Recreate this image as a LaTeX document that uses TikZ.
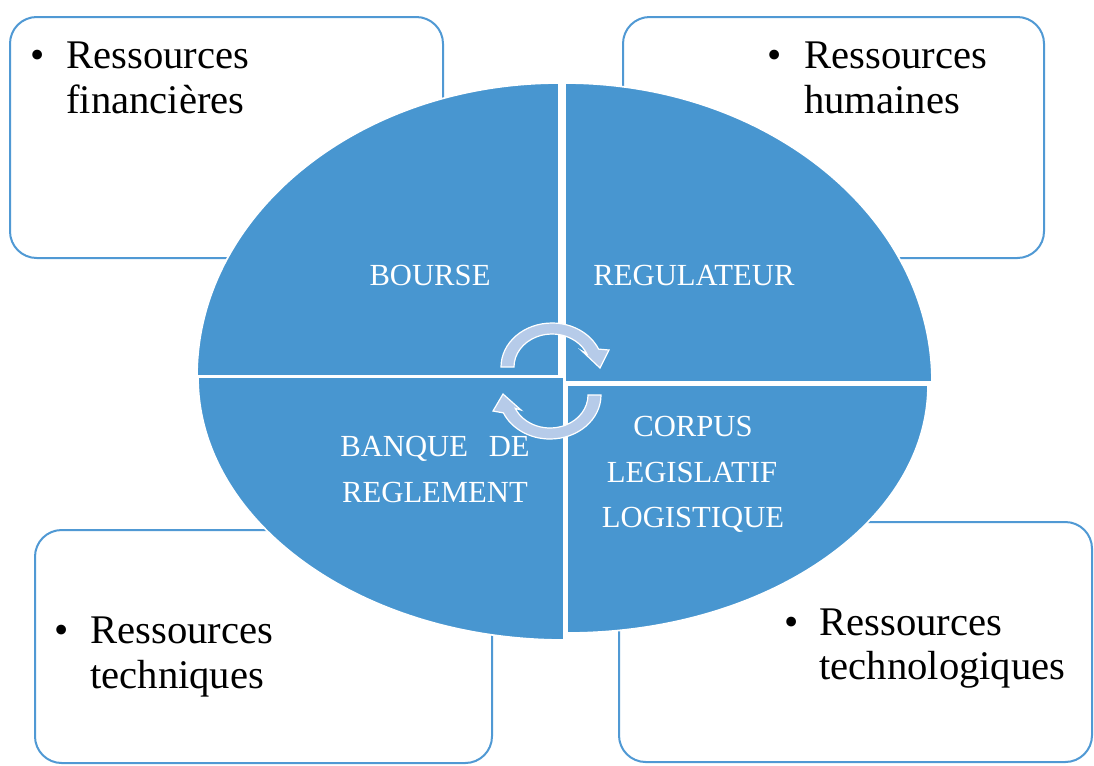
\documentclass[tikz,border=0pt]{standalone}
\usepackage{fontspec}
\setmainfont{Liberation Serif}
\newfontfamily\timesfont{Liberation Serif}
\definecolor{quad}{RGB}{72,150,208}
\definecolor{boxline}{RGB}{80,153,212}
\definecolor{arrowfill}{RGB}{182,203,233}
\begin{document}
\begin{tikzpicture}[x=0.75pt,y=-0.75pt,
  resbox/.style={draw=boxline, fill=white, line width=1.5pt, rounded corners=20pt},
  quadfill/.style={fill=quad, draw=white, line width=1.3pt},
  cyc/.style={fill=arrowfill, draw=white, line width=0.9pt, line join=miter},
  restext/.style={font=\timesfont\fontsize{30.5}{36}\selectfont, anchor=base west, inner sep=0pt},
  bul/.style={font=\timesfont\fontsize{30.5}{36}\selectfont, anchor=base, inner sep=0pt},
  quadtext/.style={font=\timesfont\fontsize{23}{27}\selectfont, text=white, anchor=base, inner sep=0pt}]
\useasboundingbox (0,0) rectangle (1094,765);
\fill[white] (0,0) rectangle (1094,765);
% corner boxes
\draw[resbox] (10,17) rectangle (443,258);
\draw[resbox] (623,17) rectangle (1044,258);
\draw[resbox] (35,530) rectangle (492,763);
\draw[resbox] (619,522) rectangle (1092,762);
% box texts
\node[bul] (b1) at (38,68) {•};
\node[restext] (t1a) at (66,68) {Ressources};
\node[restext] (t1b) at (66,113) {financières};
\node[bul] (b2) at (775,68) {•};
\node[restext] (t2a) at (804,68) {Ressources};
\node[restext] (t2b) at (804,113) {humaines};
\node[bul] (b3) at (62,643) {•};
\node[restext] (t3a) at (90,643) {Ressources};
\node[restext] (t3b) at (90,688) {techniques};
\node[bul] (b4) at (792,635) {•};
\node[restext] (t4a) at (819,635) {Ressources};
\node[restext] (t4b) at (819,679) {technologiques};
% ellipse quadrants
\path[quadfill] (559,376) -- (197,376) arc[start angle=180, end angle=270, x radius=362, y radius=293] -- cycle;
\path[quadfill] (565,382) -- (565,83) arc[start angle=270, end angle=360, x radius=367, y radius=299] -- cycle;
\path[quadfill] (564,377) -- (564,640) arc[start angle=90, end angle=180, x radius=366, y radius=263] -- cycle;
\path[quadfill] (567,385) -- (928,385) arc[start angle=0, end angle=90, x radius=361, y radius=248] -- cycle;
% quadrant texts
\node[quadtext] (q1) at (430,285) {BOURSE};
\node[quadtext] (q2) at (694,285) {REGULATEUR};
\node[quadtext] (q3a) at (435,456) {\makebox[142pt][s]{BANQUE DE}};
\node[quadtext] (q3b) at (435,502) {REGLEMENT};
\node[quadtext] (q4a) at (693,436) {CORPUS};
\node[quadtext] (q4b) at (692,482) {LEGISLATIF};
\node[quadtext] (q4c) at (693,527) {LOGISTIQUE};
% circular arrows
\path[cyc] (501,367) arc[start angle=180, end angle=336, x radius=51, y radius=44]
  -- (609,350) -- (600,368) -- (582,351)
  -- (586.7,353.6) arc[start angle=336, end angle=180, x radius=38, y radius=33] -- cycle;
\path[cyc] (601,395) arc[start angle=0, end angle=156, x radius=51, y radius=44]
  -- (493,411) -- (503,394) -- (521,410)
  -- (515.3,408.4) arc[start angle=156, end angle=0, x radius=38, y radius=33] -- cycle;
\end{tikzpicture}
\end{document}
